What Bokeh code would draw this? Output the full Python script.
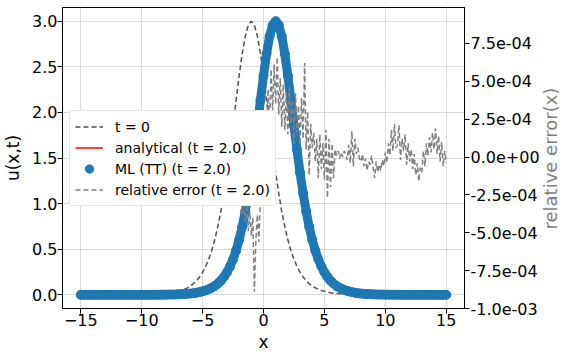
import math
from bokeh.plotting import figure
from bokeh.models import (Range1d, LinearAxis, Legend, LegendItem, FixedTicker,
                          CustomJSTickFormatter)
from bokeh.embed import file_html
from bokeh.resources import INLINE

# ---------------- data ----------------
x_grid = [-15 + 0.25 * i for i in range(121)]

u_t0 = [0.0] * 17 + [
    0.001, 0.001, 0.002, 0.002, 0.003, 0.003, 0.004, 0.006, 0.007, 0.009,
    0.011, 0.014, 0.018, 0.023, 0.030, 0.038, 0.048, 0.060, 0.077, 0.097,
    0.123, 0.155, 0.196, 0.247, 0.311, 0.389, 0.486, 0.604, 0.746, 0.915,
    1.113, 1.338, 1.589, 1.858, 2.135, 2.403, 2.642, 2.834, 2.957, 3.000,
    2.957, 2.834, 2.642, 2.403, 2.135, 1.858, 1.589, 1.338, 1.113, 0.915,
    0.746, 0.604, 0.486, 0.389, 0.311, 0.247, 0.196, 0.155, 0.123, 0.097,
    0.077, 0.060, 0.048, 0.038, 0.030, 0.023, 0.018, 0.014, 0.011, 0.009,
    0.007, 0.006, 0.004, 0.003, 0.003, 0.002, 0.002, 0.001, 0.001, 0.001,
] + [0.0] * 24

u_t2 = [0.0] * 25 + [
    0.001, 0.001, 0.002, 0.002, 0.003, 0.003, 0.004, 0.006, 0.007, 0.009,
    0.011, 0.014, 0.018, 0.023, 0.030, 0.038, 0.048, 0.060, 0.077, 0.097,
    0.123, 0.155, 0.196, 0.247, 0.311, 0.389, 0.486, 0.604, 0.746, 0.915,
    1.113, 1.338, 1.589, 1.858, 2.135, 2.403, 2.642, 2.834, 2.957, 3.000,
    2.957, 2.834, 2.642, 2.403, 2.135, 1.858, 1.589, 1.338, 1.113, 0.915,
    0.746, 0.604, 0.486, 0.389, 0.311, 0.247, 0.196, 0.155, 0.123, 0.097,
    0.077, 0.060, 0.048, 0.038, 0.030, 0.023, 0.018, 0.014, 0.011, 0.009,
    0.007, 0.006, 0.004, 0.003, 0.003, 0.002, 0.002, 0.001, 0.001, 0.001,
] + [0.0] * 16

x_err = [-15 + 0.125 * i for i in range(241)]
# relative error in units of 1e-4
err_e4 = [
    0.3, 0.1, -0.2, 0.0, -0.4, -0.2, -0.6, -0.3,
    -0.4, -0.1, 0.2, -0.1, 0.4, 0.1, 0.6, 0.3,
    0.5, 0.2, 0.7, 0.4, 0.9, 0.3, 0.6, 0.2,
    0.5, 0.8, 0.3, 0.6, 0.1, 0.7, 0.4, 1.0,
    0.5, 0.9, 0.2, 0.6, 0.8, 0.3, 0.7, 0.4,
    0.9, 0.5, 0.2, 0.7, 0.4, 0.8, 0.3, 0.6,
    1.0, 0.4, 0.7, 0.1, 0.6, 0.9, 0.3, 0.7,
    1.2, 0.5, 0.9, 0.2, 1.4, 0.6, 1.0, 0.3,
    1.8, 0.6, 1.3, 0.2, 2.0, 0.8, 1.5, 0.4,
    1.1, 2.2, 0.5, 1.6, 0.3, 1.9, 0.7, 1.3,
    0.4, 1.7, 0.6, 1.9, 0.2, 1.2, 0.5, 1.6,
    0.3, 1.0, -0.2, 0.6, -0.5, 0.2, -0.8, -0.1,
    -1.2, -0.4, -1.8, -1.0, -2.3, -1.5, -2.8, -1.9,
    -3.2, -2.2, -3.8, -2.8, -4.3, -3.1, -4.9, -3.6,
    -5.2, -4.0, -8.9, -5.5, -3.8, -5.6, -2.6, -2.0,
    -0.5, 2.5, 0.8, 4.5, 2.0, 5.8, 3.0, 6.1,
    3.5, 6.6, 2.8, 5.2, 2.0, 4.8, 1.8, 4.2,
    1.5, 4.6, 2.2, 3.8, 0.9, 4.2, 1.6, 3.4,
    0.8, 3.9, 1.2, 6.2, 0.5, 3.0, -1.2, 2.2,
    0.6, 1.6, -0.3, 1.2, -1.4, 1.5, -0.8, 0.9,
    -1.5, 1.8, -2.7, 1.2, -2.0, 0.9, -1.4, 0.5,
    0.1, 0.4, -0.1, 0.3, 0.0, 0.4, 0.2, -0.2,
    0.8, -0.4, 1.7, -0.6, 1.2, 0.2, 0.6, -0.1,
    -0.3, 0.2, -0.6, -0.1, -0.9, -0.3, -0.5, 0.1,
    -0.7, -1.4, -0.3, -1.0, -0.5, -0.9, -0.2, -0.6,
    0.3, -0.4, 0.9, 0.1, 1.8, 0.4, 2.2, 0.6,
    0.8, 2.1, -0.2, 1.2, 0.4, 1.5, -0.5, 0.9,
    -0.3, 0.5, -0.8, 0.2, -1.2, -0.4, -1.6, -0.7,
    -1.0, 0.4, -0.6, 0.9, 0.1, 1.3, 0.3, 1.6,
    0.5, 1.9, 0.2, 1.4, -0.3, 1.0, -0.6, 0.4,
    -0.4,
]
err = [v * 1e-4 for v in err_e4]

x_ticks = [-15, -10, -5, 0, 5, 10, 15]
u_ticks = [0.0, 0.5, 1.0, 1.5, 2.0, 2.5, 3.0]
err_ticks = [-1.0e-3, -7.5e-4, -5.0e-4, -2.5e-4, 0.0, 2.5e-4, 5.0e-4, 7.5e-4]

labels = ["t = 0", "analytical (t = 2.0)", "ML (TT) (t = 2.0)", "relative error (t = 2.0)"]
right_title = "relative error(x)"

# ---------------- figure ----------------
FONT = "DejaVu Sans"
FRAME_H = 301
p = figure(width=574, height=359, output_backend="svg", toolbar_location=None,
           x_range=Range1d(-16.5, 16.5), y_range=Range1d(-0.15, 3.15),
           min_border_left=56, min_border_right=107, min_border_top=7,
           min_border_bottom=51)
p.extra_y_ranges = {"err": Range1d(-1.0e-3, 9.87e-4),
                    "px": Range1d(0, FRAME_H)}
p.background_fill_color = "white"
p.border_fill_color = "white"
p.outline_line_color = "black"
p.outline_line_width = 1

def style_axis(ax, label_standoff=0, title_standoff=0):
    ax.major_label_text_font = FONT
    ax.major_label_text_font_size = "16px"
    ax.major_label_text_color = "black"
    ax.axis_label_text_font = FONT
    ax.axis_label_text_font_size = "17px"
    ax.axis_label_text_font_style = "normal"
    ax.axis_label_text_color = "black"
    ax.axis_line_color = "black"
    ax.major_tick_line_color = "black"
    ax.major_tick_out = 5
    ax.major_tick_in = 0
    ax.minor_tick_line_color = None
    ax.major_label_standoff = label_standoff
    ax.axis_label_standoff = title_standoff

xa = p.xaxis[0]
style_axis(xa, 0, 3)
xa.axis_label = "x"
xa.ticker = FixedTicker(ticks=x_ticks)
xa.formatter = CustomJSTickFormatter(
    code="return (tick < 0 ? '\\u2212' : '') + Math.abs(tick).toFixed(0);")

ya = p.yaxis[0]
style_axis(ya, 0, 6)
ya.axis_label = "u(x,t)"
ya.ticker = FixedTicker(ticks=u_ticks)
ya.formatter = CustomJSTickFormatter(code="return tick.toFixed(1);")

ra = LinearAxis(y_range_name="err")
style_axis(ra, 1, 8)
ra.ticker = FixedTicker(ticks=err_ticks)
ra.formatter = CustomJSTickFormatter(code="""
    const s = tick.toExponential(1);
    const parts = s.split('e');
    let ex = parts[1];
    const sign = ex[0];
    let d = ex.slice(1);
    if (d.length < 2) { d = '0' + d; }
    return parts[0] + 'e' + sign + d;
""")
p.add_layout(ra, "right")

# right-hand title (bottom-to-top), drawn as a single rotated label of an
# otherwise invisible outer axis
ta = LinearAxis(y_range_name="px", ticker=FixedTicker(ticks=[79]))
ta.major_label_overrides = {79: right_title}
ta.major_label_orientation = math.pi / 2
ta.major_label_text_font = FONT
ta.major_label_text_font_size = "18px"
ta.major_label_text_color = "#808080"
ta.major_label_standoff = 8
ta.axis_line_color = None
ta.major_tick_line_color = None
ta.minor_tick_line_color = None
ta.major_tick_out = 0
ta.major_tick_in = 0
p.add_layout(ta, "right")

p.xgrid.ticker = FixedTicker(ticks=x_ticks)
p.ygrid.ticker = FixedTicker(ticks=u_ticks)
for g in (p.xgrid[0], p.ygrid[0]):
    g.grid_line_color = "#b8b8b8"
    g.grid_line_dash = "1 1"
    g.grid_line_width = 1

# ---------------- glyphs ----------------
r_t0 = p.line(x_grid, u_t0, line_color="#505050", line_width=1.5, line_dash="5 3")
r_an = p.line(x_grid, u_t2, line_color="red", line_width=1.5)
p.line(x_grid, u_t2, line_color="#1f77b4", line_width=9,
       line_cap="round", line_join="round")
r_ml = p.scatter(x_grid, u_t2, size=9, fill_color="#1f77b4", line_color="#1f77b4")
r_err = p.line(x_err, err, y_range_name="err", line_color="#808080",
               line_width=1.5, line_dash="5 3", level="overlay")

legend = Legend(items=[
    LegendItem(label=labels[0], renderers=[r_t0]),
    LegendItem(label=labels[1], renderers=[r_an]),
    LegendItem(label=labels[2], renderers=[r_ml]),
    LegendItem(label=labels[3], renderers=[r_err]),
], location=(7, 102))
legend.label_text_font = FONT
legend.label_text_font_size = "14px"
legend.label_text_color = "black"
legend.border_line_color = "#cccccc"
legend.border_line_width = 1
legend.border_radius = 3
legend.background_fill_color = "white"
legend.background_fill_alpha = 1.0
legend.padding = 5
legend.spacing = 0
legend.margin = 0
legend.label_height = 21
legend.glyph_height = 21
legend.glyph_width = 28
legend.label_standoff = 12
p.add_layout(legend)

open("out.html", "w").write(file_html(p, INLINE))
